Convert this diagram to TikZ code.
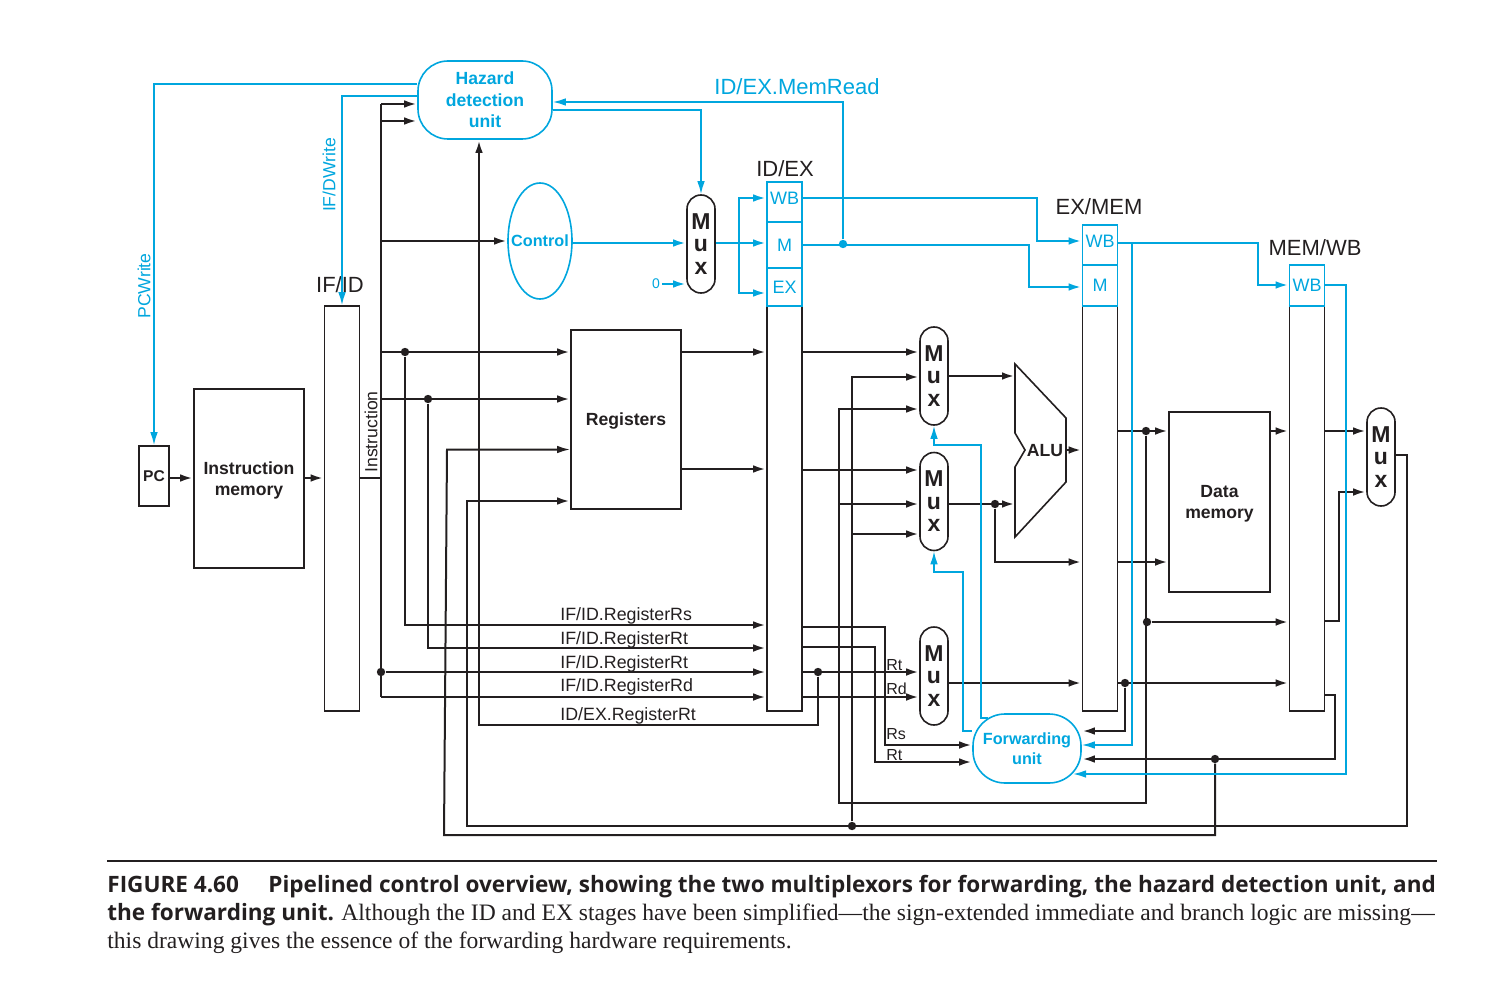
\documentclass[tikz,border=0pt]{standalone}
\usepackage{fontspec}
\setmainfont{Liberation Sans}
\newfontfamily\capserif{Liberation Serif}
\newfontfamily\caphead{Open Sans}
\usetikzlibrary{arrows.meta,shapes.geometric}
\definecolor{ctrlblue}{RGB}{0,166,222}
\definecolor{wireblack}{RGB}{35,31,32}

\begin{document}
\begin{tikzpicture}[x=0.5pt,y=-0.5pt,
    wire/.style={color=wireblack,line width=1.3pt},
    bluewire/.style={color=ctrlblue,line width=1.25pt},
    thinblue/.style={color=ctrlblue,line width=.8pt},
    arr/.style={-{Latex[length=6.5pt,width=3.8pt]}},
    box node/.style={draw=wireblack,line width=.8pt,inner sep=0pt,align=center,text depth=0pt,
                     text=wireblack,font=\bfseries\fontsize{8.8}{10.5}\selectfont},
    pipe node/.style={box node,minimum width=17.5pt,minimum height=202.5pt},
    ctrl box/.style={draw=ctrlblue,line width=.8pt,inner sep=0pt,minimum width=17.5pt,
                     text=ctrlblue,font=\fontsize{9}{10}\selectfont},
    mux node/.style={draw=wireblack,line width=.8pt,rounded corners=7pt,inner sep=0pt,
                     minimum width=14pt,minimum height=49pt,align=center,text=wireblack,text depth=-1.5pt,
                     font=\bfseries\fontsize{11.5}{11.25}\selectfont},
    unit node/.style={draw=ctrlblue,line width=.8pt,inner sep=0pt,align=center,text=ctrlblue,
                      font=\bfseries\fontsize{8.8}{10.75}\selectfont},
    small unit/.style={unit node,font=\bfseries\fontsize{8.1}{10}\selectfont},
    reg label/.style={text=wireblack,font=\fontsize{11}{12}\selectfont},
    ctrl label/.style={text=ctrlblue,font=\fontsize{8.8}{10}\selectfont},
    field label/.style={anchor=base west,inner sep=0pt,text=wireblack,font=\fontsize{8.9}{10}\selectfont},
    port label/.style={anchor=base west,inner sep=0pt,text=wireblack,font=\fontsize{8}{9}\selectfont},
    junction/.style={circle,fill=wireblack,inner sep=0pt,minimum size=4.2pt},
    caption text/.style={anchor=base west,inner sep=0pt,text=wireblack},
    cap bold/.style={caption text,font=\caphead\bfseries\fontsize{11.27}{12}\selectfont},
    cap plain/.style={caption text,font=\capserif\fontsize{11.78}{13}\selectfont}]

  \useasboundingbox (0,0) rectangle (1508,1000);

  % blocks
  \node[box node,minimum width=15pt,minimum height=30pt,font=\bfseries\fontsize{7.8}{9}\selectfont] (pc) at (154,476) {PC};
  \node[box node,minimum width=55pt,minimum height=89.5pt] (imem) at (249,478.5) {Instruction\\memory};
  \node[box node,minimum width=55pt,minimum height=89.5pt] (regs) at (626,419.5) {Registers};
  \node[box node,minimum width=50.5pt,minimum height=90pt] (dmem) at (1219.5,502) {Data\\memory};

  \node[pipe node] (ifid) at (342,508.5) {};
  \node[pipe node] (idex) at (784.5,508.5) {};
  \node[pipe node] (exmem) at (1100,508.5) {};
  \node[pipe node] (memwb) at (1307,508.5) {};

  \node[ctrl box,minimum height=20pt,text depth=4pt] (wb1) at (784.5,202) {WB};
  \node[ctrl box,minimum height=23pt] (m1) at (784.5,245) {M};
  \node[ctrl box,minimum height=19pt] (ex1) at (784.5,287) {EX};
  \node[ctrl box,minimum height=20pt,text depth=4pt] (wb2) at (1100,245) {WB};
  \node[ctrl box,minimum height=20.5pt] (m2) at (1100,285.5) {M};
  \node[ctrl box,minimum height=20.5pt] (wb3) at (1307,285.5) {WB};

  \node[mux node] (muxtop) at (701,244) {M\\u\\x};
  \node[mux node] (muxa) at (934,376) {M\\u\\x};
  \node[mux node] (muxb) at (934,501.5) {M\\u\\x};
  \node[mux node] (muxc) at (934,676) {M\\u\\x};
  \node[mux node] (muxd) at (1381,457) {M\\u\\x};

  \node[unit node,rounded corners=15pt,minimum width=67pt,minimum height=39pt] (hazard) at (485,100) {Hazard\\detection\\unit};
  \node[small unit,ellipse,minimum width=32pt,minimum height=58pt] (control) at (540,241) {\makebox[0pt]{Control}};
  \node[small unit,rounded corners=16pt,minimum width=54pt,minimum height=34.5pt] (fwd) at (1027,748.5) {Forwarding\\unit};

  % alu outline
  \draw[wireblack,line width=.8pt] (1015,364) -- (1066,418) -- (1066,482) -- (1015,537)
    -- (1015,467) -- (1025,450) -- (1015,433) -- cycle;
  \node[text=wireblack,inner sep=0pt,font=\bfseries\fontsize{8.8}{10}\selectfont] (alu) at (1045,451) {ALU};

  % labels
  \node[reg label] (ifidname) at (340,285) {IF/ID};
  \node[reg label] (idexname) at (785,169) {ID/EX};
  \node[reg label] (exmemname) at (1099,207) {EX/MEM};
  \node[reg label] (memwbname) at (1315,248) {MEM/WB};
  \node[text=ctrlblue,font=\fontsize{11}{12}\selectfont] (memread) at (797,87) {ID/EX.MemRead};
  \node[ctrl label,rotate=90] (pcwrite) at (144,286) {PCWrite};
  \node[ctrl label,rotate=90] (ifdwrite) at (329,175) {IF/DWrite};
  \node[text=wireblack,rotate=90,font=\fontsize{8.8}{10}\selectfont] (instr) at (371,432) {Instruction};
  \node[text=ctrlblue,inner sep=1pt,font=\fontsize{7}{8}\selectfont] (zero) at (656,284) {0};

  \node[field label] (frs) at (560,620) {IF/ID.RegisterRs};
  \node[field label] (frt) at (560,644) {IF/ID.RegisterRt};
  \node[field label] (frtb) at (560,668) {IF/ID.RegisterRt};
  \node[field label] (frd) at (560,691) {IF/ID.RegisterRd};
  \node[field label] (fex) at (560,720) {ID/EX.RegisterRt};
  \node[port label] (prt) at (886,670) {Rt};
  \node[port label] (prd) at (886,694) {Rd};
  \node[port label] (prs) at (886,739) {Rs};
  \node[port label] (prtb) at (886,760) {Rt};

  % junctions
  \node[junction] (dot rs) at (405,352) {};
  \node[junction] (dot rt) at (428,399) {};
  \node[junction] (dot wr) at (381,672) {};
  \node[junction] (dot exrt) at (818,672) {};
  \node[junction] (dot wb) at (852,826) {};
  \node[junction,fill=ctrlblue] (dot memread) at (843,244) {};
  \node[junction] (dot alub) at (995,504) {};
  \node[junction] (dot alures) at (1146,431) {};
  \node[junction] (dot mem) at (1147,622) {};
  \node[junction] (dot exrd) at (1125,683) {};
  \node[junction] (dot wbrd) at (1215,759) {};

  \coordinate (bus top) at (381,104);
  \coordinate (bus end) at (381,697);
  \coordinate (hz feed) at (479,725);
  \coordinate (fan) at (739,243);
  \coordinate (alu a) at (1015,376);
  \coordinate (alu b) at (1015,504);
  \coordinate (alu out) at (1066,450);
  \coordinate (fwd a) at (988,718);
  \coordinate (fwd low) at (1073,774);

  % datapath wires
  \draw[wire] (bus top) -- (bus end);
  \draw[wire] (ifid.east |- 0,478) -- (bus top |- 0,478);
  \path[wire,arr]
    (pc.east |- 0,478) edge (imem.west |- 0,478)
    (imem.east |- 0,478) edge (ifid.west |- 0,478)
    (bus top) edge (hazard.west |- bus top)
    (bus top |- 0,121) edge (hazard.west |- 0,121)
    (bus top |- control) edge (control.west)
    (bus top |- dot rs) edge (regs.west |- dot rs)
    (bus top |- dot rt) edge (regs.west |- dot rt)
    (dot wr) edge (idex.west |- dot wr)
    (bus end) edge (idex.west |- bus end)
    (regs.east |- 0,352) edge (idex.west |- 0,352)
    (regs.east |- 0,469) edge (idex.west |- 0,469)
    (idex.east |- 0,352) edge (muxa.west |- 0,352)
    (idex.east |- 0,470) edge (muxb.west |- 0,470)
    (idex.east |- 0,672) edge (muxc.west |- 0,672)
    (idex.east |- 0,697) edge (muxc.west |- 0,697)
    (muxa.east |- alu a) edge (alu a)
    (muxb.east |- alu b) edge (alu b)
    (alu out) edge (exmem.west |- alu out)
    (muxc.east |- 0,683) edge (exmem.west |- 0,683)
    (exmem.east |- dot alures) edge (dmem.west |- dot alures)
    (exmem.east |- 0,562) edge (dmem.west |- 0,562)
    (exmem.east |- dot exrd) edge (memwb.west |- dot exrd)
    (dot mem) edge (memwb.west |- dot mem)
    (dmem.east |- 0,431) edge (memwb.west |- 0,431)
    (memwb.east |- 0,431) edge (muxd.west |- 0,431)
    (839,504) edge (muxb.west |- 0,504)
    (852,534) edge (muxb.west |- 0,534);
  \draw[wire,arr] (dot rs) |- (idex.west |- 0,625);
  \draw[wire,arr] (dot rt) |- (idex.west |- 0,648);
  \draw[wire,arr,line width=1pt] (dot wbrd) |- (444,835) -- (447,449.5) -- (regs.west |- 0,449.5);
  \draw[wire,arr] (muxd.east |- 0,455) -- (1407,455) -- (1407,826) -- (467,826) -- (467,501) -- (regs.west |- 0,501);
  \draw[wire,arr] (dot exrt) |- (hz feed) -- (hz feed |- hazard.south);
  \draw[wire,arr] (idex.east |- 0,627) -- (885,627) -- (885,745) -- (fwd.west |- 0,745);
  \draw[wire,arr] (idex.east |- 0,647) -- (875,647) -- (875,762) -- (fwd.west |- 0,762);
  \draw[wire,arr] (dot wb) |- (muxa.west |- 0,377);
  \draw[wire,arr] (dot alures) |- (839,803) |- (muxa.west |- 0,409);
  \draw[wire,arr] (dot alub) |- (exmem.west |- 0,562);
  \draw[wire,arr] (dot exrd) |- (fwd.east |- 0,731);
  \draw[wire,arr] (memwb.east |- 0,695) -- (1335,695) |- (fwd.east |- 0,759);
  \draw[wire,arr] (memwb.east |- 0,621) -- (1339,621) |- (muxd.west |- 0,492);

  % control wires
  \draw[thinblue,arr] (hazard.west |- 0,84) -| (pc.north);
  \draw[thinblue,arr] (hazard.west |- 0,96) -| (ifid.north);
  \draw[thinblue,arr] (dot memread) |- (hazard.east |- 0,102);
  \draw[thinblue,arr] (hazard.east |- 0,110) -| (muxtop.north);
  \draw[bluewire,arr] (control.east |- 0,243) -- (muxtop.west |- 0,243);
  \draw[bluewire,arr] (zero.east) -- (muxtop.west |- zero);
  \draw[bluewire,arr] (muxtop.east |- fan) -- (m1.west |- fan);
  \draw[bluewire,arr] (fan) |- (wb1.west |- 0,198);
  \draw[bluewire,arr] (fan) |- (ex1.west |- 0,293);
  \draw[bluewire,arr] (wb1.east |- 0,198) -- (1037,198) -- (1037,241) -- (wb2.west |- 0,241);
  \draw[bluewire,arr] (m1.east |- 0,245) -- (1029,245) -- (1029,287) -- (m2.west |- 0,287);
  \draw[bluewire,arr] (wb2.east |- 0,243) -- (1258,243) -- (1258,285) -- (wb3.west |- 0,285);
  \draw[thinblue,arr] (1132,243) -- (1132,745) -- (fwd.east |- 0,745);
  \draw[thinblue,arr] (wb3.east |- 0,285) -- (1346,285) -- (1346,774) -- (fwd low);
  \draw[thinblue,arr] (fwd a) -- (981,718) -- (981,445) -| (muxa.south);
  \draw[thinblue,arr] (fwd.west |- 0,731) -- (963,731) -- (963,572) -| (muxb.south);

  % caption under the figure
  \coordinate (rule l) at (107,861);
  \coordinate (rule r) at (1437,861);
  \draw[wireblack,line width=.7pt] (rule l) -- (rule r);
  \node[cap bold] (cap fig) at (107,892) {FIGURE 4.60};
  \node[cap bold] (cap head) at (268,892) {Pipelined control overview, showing the two multiplexors for forwarding, the hazard detection unit, and};
  \node[cap bold] (cap tail) at (107,920) {the forwarding unit.};
  \node[cap plain] (cap two) at (341,920) {Although the ID and EX stages have been simplified—the sign-extended immediate and branch logic are missing—};
  \node[cap plain] (cap three) at (107,948) {this drawing gives the essence of the forwarding hardware requirements.};
\end{tikzpicture}
\end{document}
